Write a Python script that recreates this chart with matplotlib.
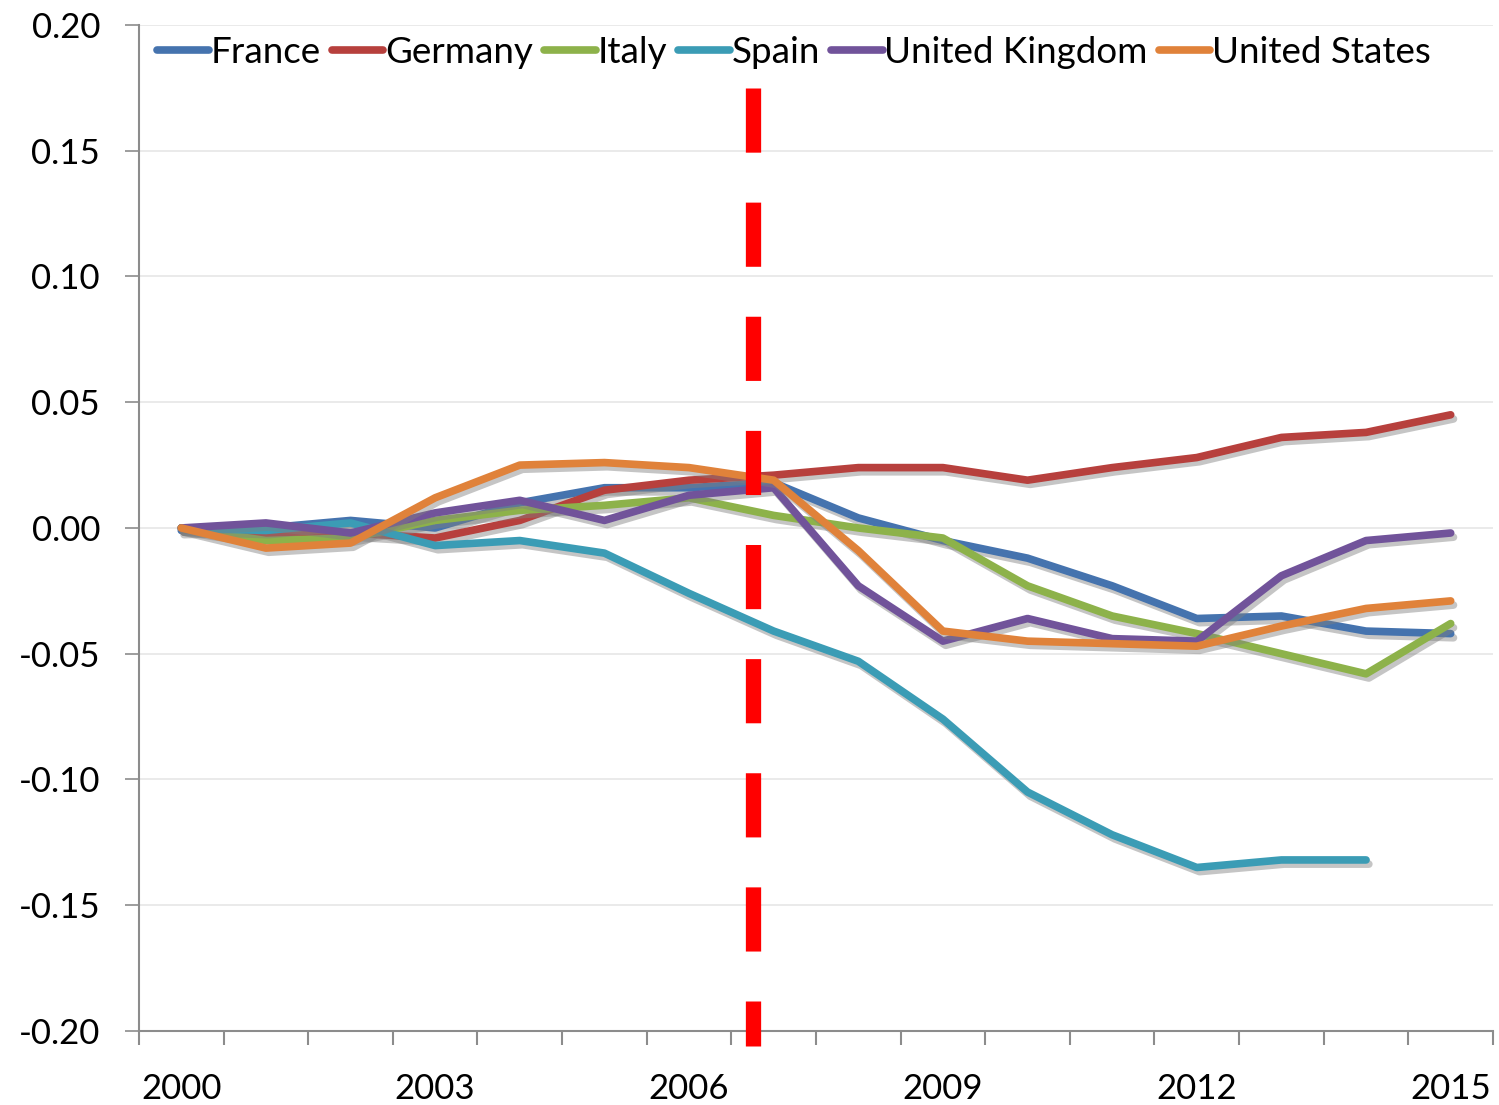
import matplotlib
matplotlib.use('Agg')
import matplotlib.pyplot as plt
import matplotlib.patheffects as pe
import numpy as np

plt.rcParams['font.family'] = ['Lato', 'DejaVu Sans']

# data
years = list(range(2000, 2016))
france = [-0.001, 0.000, 0.003, 0.000, 0.010, 0.016, 0.016, 0.018, 0.004, -0.005,
          -0.012, -0.023, -0.036, -0.035, -0.041, -0.042]
germany = [0.000, -0.003, -0.002, -0.004, 0.003, 0.015, 0.019, 0.021, 0.024, 0.024,
           0.019, 0.024, 0.028, 0.036, 0.038, 0.045]
italy = [0.000, -0.005, -0.004, 0.003, 0.007, 0.009, 0.012, 0.005, 0.000, -0.004,
         -0.023, -0.035, -0.042, -0.050, -0.058, -0.038]
spain = [0.000, -0.001, 0.002, -0.007, -0.005, -0.010, -0.026, -0.041, -0.053, -0.076,
         -0.105, -0.122, -0.135, -0.132, -0.132]
uk = [0.000, 0.002, -0.002, 0.006, 0.011, 0.003, 0.013, 0.016, -0.023, -0.045,
      -0.036, -0.044, -0.045, -0.019, -0.005, -0.002]
us = [0.000, -0.008, -0.006, 0.012, 0.025, 0.026, 0.024, 0.019, -0.009, -0.041,
      -0.045, -0.046, -0.047, -0.039, -0.032, -0.029]

names = ['France', 'Germany', 'Italy', 'Spain', 'United Kingdom', 'United States']
series = [france, germany, italy, spain, uk, us]
colors = ['#4573AE', '#B7403D', '#8DB24A', '#3B9CB5', '#71539A', '#E0823A']

break_year = 2006.75   # red dashed marker
tick_years = [2000, 2003, 2006, 2009, 2012, 2015]
y_ticks = [-0.20, -0.15, -0.10, -0.05, 0.0, 0.05, 0.10, 0.15, 0.20]

fig = plt.figure(figsize=(14.99, 11.05), dpi=100)
ax = fig.add_axes([0.0927, 0.067, 0.9033, 0.9104])

shadow = [pe.SimpleLineShadow(offset=(2, -3), shadow_color='#7f7f7f', alpha=0.45), pe.Normal()]
for name, vals, c in zip(names, series, colors):
    ax.plot(years[:len(vals)], vals, color=c, lw=5.5, label=name,
            solid_joinstyle='round', solid_capstyle='round', path_effects=shadow)

# red dashed vertical marker
ax.plot([break_year, break_year], [0.175, -0.206], color='#FF0000', lw=11,
        dashes=(4.2, 3.27), dash_capstyle='butt', clip_on=False, zorder=5)

ax.set_xlim(1999.5, 2015.5)
ax.set_ylim(-0.20, 0.20)
ax.set_yticks(y_ticks)
ax.set_yticklabels(['%.2f' % abs(v) if abs(v) < 1e-9 else '%.2f' % v for v in y_ticks])
ax.yaxis.grid(True, color='#e6e6e6', lw=1.2)
ax.set_axisbelow(True)

# excel style: tick marks between categories, labels at every third year
ax.set_xticks(np.arange(1999.5, 2015.6, 1.0))
ax.set_xticklabels([])
ax.set_xticks(tick_years, minor=True)
ax.set_xticklabels([str(y) for y in tick_years], minor=True)
ax.tick_params(axis='x', which='major', direction='out', length=10, width=1.5, color='#8c8c8c')
ax.tick_params(axis='x', which='minor', length=0, pad=30, labelsize=25)
ax.tick_params(axis='y', direction='out', length=10, width=1.2, color='#8c8c8c',
               labelsize=25, pad=18)

for s in ['top', 'right']:
    ax.spines[s].set_visible(False)
for s in ['left', 'bottom']:
    ax.spines[s].set_color('#8c8c8c')
    ax.spines[s].set_linewidth(1.5)

leg = ax.legend(loc='upper left', bbox_to_anchor=(0.0, 1.007), ncol=6, frameon=False,
                fontsize=26.5, handlelength=1.4, handletextpad=0.05, columnspacing=0.3,
                borderaxespad=0.1)
for h in leg.get_lines():
    h.set_linewidth(5.5)
    h.set_path_effects([])

fig.savefig('out.png', dpi=100)
